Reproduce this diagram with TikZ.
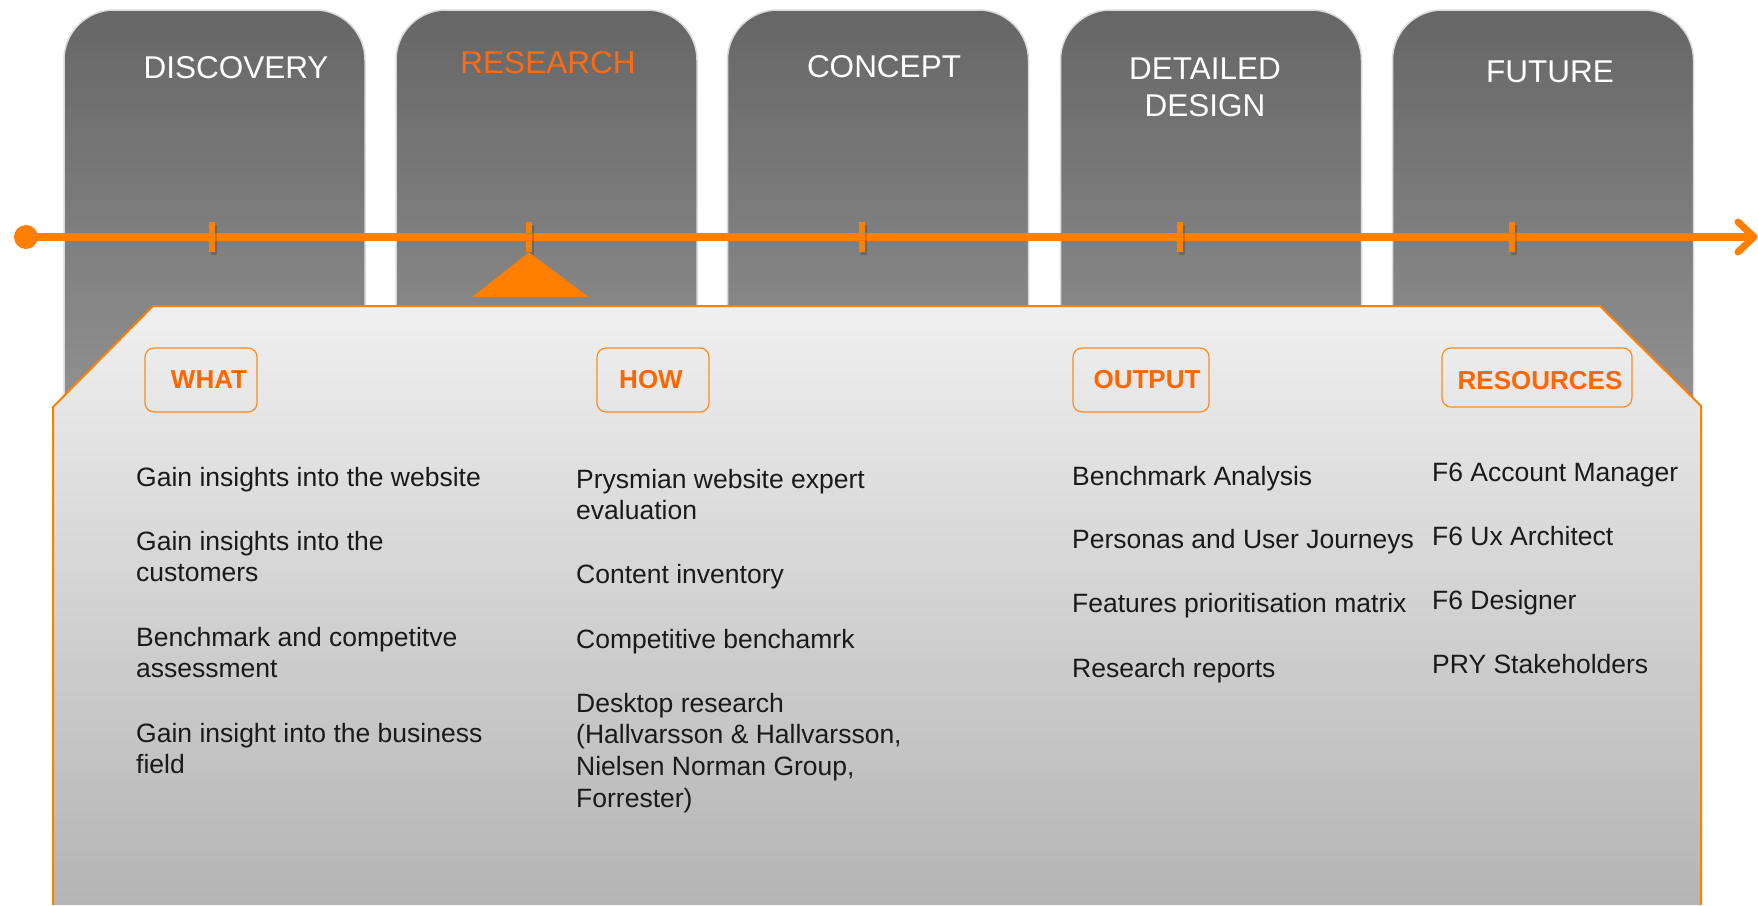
\documentclass[tikz,border=0pt]{standalone}
\usepackage{fontspec}
\setmainfont{Liberation Sans}
\definecolor{lineorange}{HTML}{FF7F00}
\definecolor{titleorange}{HTML}{FF6A13}
\definecolor{labelorange}{HTML}{FF6600}
\definecolor{boxorange}{HTML}{FF8A20}
\definecolor{tabtop}{HTML}{666666}
\definecolor{tabbottom}{HTML}{9B9B9B}
\definecolor{tabedge}{HTML}{DADADA}
\definecolor{paneltop}{HTML}{F0F0F0}
\definecolor{panelbottom}{HTML}{B4B4B4}
\definecolor{bodytext}{HTML}{1A1A1A}
\newcommand{\stack}[2][l]{\begin{tabular}[t]{@{}#1@{}}#2\end{tabular}}
\begin{document}
\begin{tikzpicture}[x=1pt,y=-1pt,
  phasetab/.style={rectangle, rounded corners=50, minimum width=301, minimum height=490,
    top color=tabtop, bottom color=tabbottom, draw=tabedge, line width=1.5, inner sep=0},
  phasetitle/.style={anchor=base, inner sep=0, text=white,
    font=\fontsize{31.5}{37}\selectfont},
  tickmark/.style={rectangle, fill=lineorange, minimum width=6, minimum height=30, inner sep=0},
  tickshadow/.style={rectangle, fill=black, opacity=0.18, minimum width=6, minimum height=30, inner sep=0},
  labelbox/.style={rectangle, draw=boxorange, line width=1.2, rounded corners=9, inner sep=0},
  labeltext/.style={inner sep=0, text=labelorange, font=\fontsize{26}{30}\bfseries\selectfont},
  item/.style={anchor=base west, inner sep=0, text=bodytext,
    font=\fontsize{26.5}{31.7}\selectfont}
]
\useasboundingbox (0,0) rectangle (1758,905);
\fill[white] (0,0) rectangle (1758,905);

% phase tabs
\node[phasetab] (tab1) at (214.5,255) {};
\node[phasetab] (tab2) at (546.5,255) {};
\node[phasetab] (tab3) at (878,255) {};
\node[phasetab] (tab4) at (1211,255) {};
\node[phasetab] (tab5) at (1543,255) {};

% phase titles
\node[phasetitle] (discovery) at (236,78) {DISCOVERY};
\node[phasetitle, text=titleorange] (research) at (548,73) {RESEARCH};
\node[phasetitle] (concept) at (884,77) {CONCEPT};
\node[phasetitle] (detailed) at (1205,79) {\stack[c]{DETAILED\\DESIGN}};
\node[phasetitle] (future) at (1550,82) {FUTURE};

% content panel with bevelled top corners
\shade[top color=paneltop, bottom color=panelbottom]
  (53,905) -- (53,407) -- (153,306) -- (1600,306) -- (1701,406) -- (1701,905) -- cycle;
\draw[lineorange, line width=2, line join=round]
  (53,905) -- (53,407) -- (153,306) -- (1600,306) -- (1701,406) -- (1701,905);

% timeline
\node[circle, fill=lineorange, minimum size=24, inner sep=0] (start) at (26,237) {};
\coordinate (tip) at (1754,237);
\draw[lineorange, line width=8] (start.center) -- (tip);
\draw[lineorange, line width=7, line cap=round, line join=round]
  ([shift={(-16,-15)}]tip) -- (tip) -- ([shift={(-16,15)}]tip);

% milestone ticks
\foreach \x [count=\i] in {212,529,862,1180,1512}{
  \node[tickshadow] (s\i) at (\x+2,240) {};
  \node[tickmark] (t\i) at (\x,237) {};
}

% current phase marker
\fill[lineorange] (t2.south) -- ([shift={(-57,45)}]t2.south) -- ([shift={(60,45)}]t2.south) -- cycle;

% column headings
\node[labelbox, minimum width=112, minimum height=64] (whatbox) at (201,380) {};
\node[labeltext] (what) at ([xshift=8]whatbox.center) {WHAT};
\node[labelbox, minimum width=112, minimum height=64] (howbox) at (653,380) {};
\node[labeltext] (how) at ([xshift=-2]howbox.center) {HOW};
\node[labelbox, minimum width=136, minimum height=64] (outputbox) at (1141,380) {};
\node[labeltext] (output) at ([xshift=6]outputbox.center) {OUTPUT};
\node[labelbox, minimum width=190, minimum height=59] (resbox) at (1537,377.5) {};
\node[labeltext] (resources) at ([xshift=3,yshift=-3.5]resbox.center) {RESOURCES};

% WHAT column
\node[item] (w1) at (136,486) {Gain insights into the website};
\node[item] (w2) at (136,550) {\stack{Gain insights into the\\customers}};
\node[item] (w3) at (136,646) {\stack{Benchmark and competitve\\assessment}};
\node[item] (w4) at (136,742) {\stack{Gain insight into the business\\field}};

% HOW column
\node[item] (h1) at (576,488) {\stack{Prysmian website expert\\evaluation}};
\node[item] (h2) at (576,583) {Content inventory};
\node[item] (h3) at (576,648) {Competitive benchamrk};
\node[item] (h4) at (576,712) {\stack{Desktop research\\(Hallvarsson \& Hallvarsson,\\Nielsen Norman Group,\\Forrester)}};

% OUTPUT column
\node[item] (o1) at (1072,485) {Benchmark Analysis};
\node[item] (o2) at (1072,548) {Personas and User Journeys};
\node[item] (o3) at (1072,612) {Features prioritisation matrix};
\node[item] (o4) at (1072,677) {Research reports};

% RESOURCES column
\node[item] (r1) at (1432,481) {F6 Account Manager};
\node[item] (r2) at (1432,545) {F6 Ux Architect};
\node[item] (r3) at (1432,609) {F6 Designer};
\node[item] (r4) at (1432,673) {PRY Stakeholders};
\end{tikzpicture}
\end{document}
